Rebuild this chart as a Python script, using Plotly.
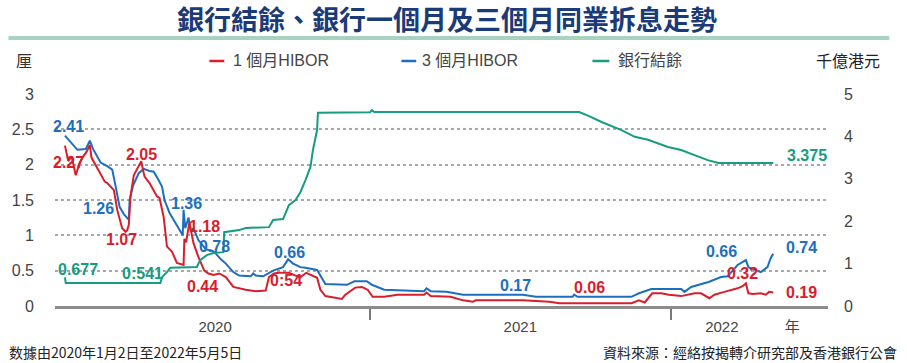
import plotly.graph_objects as go

# ---------------- data ----------------
hibor3_dates = ["2020-01-02","2020-01-08","2020-01-13","2020-01-17","2020-01-27","2020-02-01","2020-02-05",
    "2020-02-14","2020-02-22","2020-02-28","2020-03-03","2020-03-08","2020-03-13","2020-03-19","2020-03-20",
    "2020-03-24","2020-03-31","2020-04-06","2020-04-13","2020-04-18","2020-04-23","2020-04-28","2020-05-01",
    "2020-05-07","2020-05-13","2020-05-19","2020-05-23","2020-05-24","2020-05-26","2020-05-30","2020-06-02",
    "2020-06-05","2020-06-11","2020-06-20","2020-06-28","2020-07-02","2020-07-08","2020-07-14","2020-07-23",
    "2020-07-30","2020-08-13","2020-08-16","2020-08-19","2020-08-28","2020-09-09","2020-09-21","2020-09-27",
    "2020-10-03","2020-10-12","2020-10-18","2020-11-01","2020-11-11","2020-12-07","2020-12-16","2020-12-31",
    "2021-01-06","2021-01-21","2021-03-10","2021-03-13","2021-03-18","2021-04-06","2021-04-26","2021-07-07",
    "2021-07-23","2021-09-05","2021-09-07","2021-09-11","2021-10-10","2021-11-15","2021-11-24","2021-12-09",
    "2021-12-27","2022-01-14","2022-01-18","2022-01-26","2022-02-16","2022-03-03","2022-03-11","2022-03-23",
    "2022-04-02","2022-04-05","2022-04-20","2022-04-28","2022-05-02","2022-05-05"]
hibor3_values = [2.41,2.33,2.25,2.21,2.22,2.34,2.22,
    2.03,1.98,1.93,1.70,1.40,1.30,1.22,1.50,
    1.70,1.88,1.94,1.91,1.90,1.80,1.69,1.50,
    1.32,1.20,1.08,1.00,1.36,1.10,1.25,1.05,
    1.10,0.93,0.80,0.78,0.74,0.66,0.60,0.48,
    0.43,0.42,0.46,0.43,0.42,0.50,0.55,0.66,
    0.60,0.55,0.54,0.51,0.31,0.30,0.35,0.35,
    0.30,0.23,0.21,0.25,0.21,0.20,0.16,0.16,
    0.13,0.13,0.16,0.13,0.13,0.13,0.18,0.24,
    0.24,0.24,0.20,0.27,0.34,0.41,0.42,0.58,
    0.65,0.55,0.48,0.55,0.68,0.74]

hibor1_dates = ["2020-01-02","2020-01-03","2020-01-06","2020-01-10","2020-01-15","2020-01-19","2020-01-23",
    "2020-01-28","2020-02-01","2020-02-03","2020-02-07","2020-02-13","2020-02-19","2020-02-22","2020-02-26",
    "2020-03-01","2020-03-05","2020-03-11","2020-03-15","2020-03-17","2020-03-19","2020-03-21","2020-03-25",
    "2020-03-31","2020-04-03","2020-04-05","2020-04-07","2020-04-13","2020-04-22","2020-04-25","2020-04-30",
    "2020-05-04","2020-05-10","2020-05-16","2020-05-24","2020-05-25","2020-05-27","2020-05-31","2020-06-03",
    "2020-06-05","2020-06-11","2020-06-14","2020-06-18","2020-06-23","2020-06-29","2020-07-06","2020-07-14",
    "2020-07-23","2020-08-07","2020-08-19","2020-08-31","2020-09-04","2020-09-10","2020-09-16","2020-09-28",
    "2020-10-06","2020-10-12","2020-10-19","2020-10-24","2020-11-01","2020-11-05","2020-11-11","2020-12-01",
    "2020-12-05","2020-12-17","2020-12-25","2021-01-01","2021-01-07","2021-01-21","2021-02-06","2021-03-10",
    "2021-03-13","2021-03-18","2021-04-11","2021-04-26","2021-05-08","2021-05-11","2021-07-07","2021-08-08",
    "2021-08-20","2021-10-10","2021-11-15","2021-11-24","2021-12-01","2021-12-10","2021-12-21","2021-12-30",
    "2022-01-14","2022-01-30","2022-02-07","2022-02-17","2022-02-23","2022-03-07","2022-03-23","2022-03-29",
    "2022-04-02","2022-04-05","2022-04-11","2022-04-20","2022-04-26","2022-04-30","2022-05-05"]
hibor1_values = [2.27,2.20,2.05,2.12,1.85,2.00,2.10,
    2.18,2.28,2.10,2.02,1.88,1.76,1.74,1.69,
    1.64,1.36,1.10,1.05,1.07,1.15,1.55,1.85,
    2.00,2.05,1.93,1.83,1.74,1.55,1.53,1.26,
    0.84,0.77,0.61,0.58,0.95,0.90,1.18,1.00,
    0.89,0.69,0.60,0.50,0.46,0.44,0.46,0.41,
    0.27,0.23,0.21,0.22,0.41,0.46,0.47,0.47,
    0.43,0.41,0.47,0.44,0.40,0.23,0.14,0.10,
    0.16,0.26,0.27,0.23,0.13,0.13,0.16,0.16,
    0.19,0.14,0.13,0.08,0.06,0.08,0.08,0.06,
    0.04,0.04,0.04,0.08,0.05,0.18,0.18,0.16,
    0.14,0.18,0.18,0.11,0.16,0.20,0.25,0.28,
    0.32,0.18,0.17,0.18,0.16,0.20,0.19]

balance_dates = ["2020-01-02","2020-01-03","2020-04-26","2020-04-28","2020-05-04","2020-05-08","2020-06-09",
    "2020-06-13","2020-06-21","2020-06-29","2020-07-11","2020-07-12","2020-07-30","2020-08-07","2020-09-04",
    "2020-09-09","2020-09-21","2020-09-24","2020-09-28","2020-10-06","2020-10-12","2020-10-18","2020-10-24",
    "2020-10-27","2020-11-01","2020-11-02","2021-01-04","2021-01-06","2021-01-09","2021-09-13","2021-09-25",
    "2021-10-10","2021-11-03","2021-11-19","2021-12-05","2021-12-29","2022-01-14","2022-01-30","2022-02-15",
    "2022-02-28","2022-05-05"]
balance_values = [0.677,0.541,0.541,0.68,0.80,0.90,0.92,
    1.08,1.20,1.25,1.27,1.74,1.79,1.84,1.86,
    2.03,2.05,2.19,2.38,2.50,2.69,2.97,3.28,
    3.68,4.15,4.56,4.57,4.618,4.575,4.575,4.48,
    4.34,4.15,3.99,3.92,3.75,3.68,3.56,3.44,
    3.375,3.375]

series_names = ["1個月HIBOR", "3個月HIBOR", "銀行結餘"]
legend_texts = ["1 個月HIBOR", "3 個月HIBOR", "銀行結餘"]

# value labels: (text, date, value on left axis scale, series index)
label_texts = ["2.41","2.27","1.26","1.07","2.05","1.36","1.18","0.78","0.677","0:541","0.44","0.66",
               "0:54","0.17","0.06","4:618","4:575","3.375","0.66","0.32","0.74","0.19"]
label_dates = ["2020-01-06","2020-01-06","2020-02-11","2020-03-10","2020-04-03","2020-05-28","2020-06-18",
               "2020-06-30","2020-01-18","2020-04-04","2020-06-16","2020-09-29","2020-09-25","2021-06-28",
               "2021-09-26","2021-01-04","2021-04-23","2022-06-15","2022-03-04","2022-03-29","2022-06-08",
               "2022-06-08"]
label_pos = [2.535,2.025,1.374,0.935,2.139,1.445,1.119,0.836,0.51,0.467,0.283,0.751,
             0.354,0.297,0.255,3.003,3.003,2.125,0.765,0.467,0.822,0.198]
label_series = [1,0,1,0,0,1,0,1,2,2,0,1,0,1,0,2,2,2,1,0,1,0]

year_tick_vals = ["2020-07-01","2021-07-04","2022-03-04","2022-05-28"]
year_tick_text = ["2020","2021","2022","年"]
year_boundaries = ["2021-01-04","2022-01-02"]
left_ticks = [0, 0.5, 1, 1.5, 2, 2.5, 3]
left_tick_text = ["0", "0.5", "1", "1.5", "2", "2.5", "3"]
right_ticks = [0, 1, 2, 3, 4, 5]

# ---------------- styling ----------------
RED = "#d81e2c"
BLUE = "#1c6fc0"
GREEN = "#169c80"
colors = [RED, BLUE, GREEN]
NUM_FONT = "Liberation Sans, Arial, sans-serif"
CJK_FONT = "Noto Sans CJK TC, sans-serif"

fig = go.Figure()
fig.add_trace(go.Scatter(x=balance_dates, y=balance_values, mode="lines", name=series_names[2],
                         line=dict(color=GREEN, width=2), yaxis="y2", showlegend=False))
fig.add_trace(go.Scatter(x=hibor3_dates, y=hibor3_values, mode="lines", name=series_names[1],
                         line=dict(color=BLUE, width=2), showlegend=False))
fig.add_trace(go.Scatter(x=hibor1_dates, y=hibor1_values, mode="lines", name=series_names[0],
                         line=dict(color=RED, width=2), showlegend=False))

L, R, T, B = 47, 79, 94, 57
W, H = 907, 363
pw, ph = W - L - R, H - T - B

def px_x(p):
    return (p - L) / pw

def px_y(p):
    return (H - B - p) / ph

annotations = []
for t, d, v, s in zip(label_texts, label_dates, label_pos, label_series):
    annotations.append(dict(x=d, y=v, xref="x", yref="y", text=t, showarrow=False,
                            font=dict(family=NUM_FONT, size=16, color=colors[s], weight="bold"),
                            xanchor="center", yanchor="middle"))

# legend (manual)
legend_x = [(203, 218, 225), (397, 412, 416), (590, 607, 614)]
shapes = []
for (a, b, tx), name, col in zip(legend_x, legend_texts, colors):
    shapes.append(dict(type="line", xref="paper", yref="paper", x0=px_x(a), x1=px_x(b),
                       y0=px_y(61), y1=px_y(61), line=dict(color=col, width=2.5)))
    annotations.append(dict(x=px_x(tx), y=px_y(61), xref="paper", yref="paper", text=name,
                            showarrow=False, xanchor="left", yanchor="middle",
                            font=dict(family=NUM_FONT + ", " + CJK_FONT, size=16, color="#444")))

# title underline bar
shapes.append(dict(type="line", xref="paper", yref="paper", x0=px_x(0), x1=px_x(890),
                   y0=px_y(38), y1=px_y(38), line=dict(color="#a8d3c2", width=4)))

# axis unit labels
annotations.append(dict(x=px_x(16), y=px_y(60), xref="paper", yref="paper", text="厘", showarrow=False,
                        xanchor="center", yanchor="middle", font=dict(family=CJK_FONT, size=16, color="#333")))
annotations.append(dict(x=px_x(848), y=px_y(60), xref="paper", yref="paper", text="千億港元", showarrow=False,
                        xanchor="center", yanchor="middle", font=dict(family=CJK_FONT, size=16, color="#222")))

# footer
annotations.append(dict(x=px_x(-1), y=px_y(352), xref="paper", yref="paper",
                        text="数據由2020年1月2日至2022年5月5日",
                        showarrow=False,
                        xanchor="left", yanchor="middle", font=dict(family=CJK_FONT, size=14, color="#222")))
annotations.append(dict(x=px_x(900), y=px_y(352), xref="paper", yref="paper",
                        text="資料來源：經絡按揭轉介研究部及香港銀行公會", showarrow=False,
                        xanchor="right", yanchor="middle", font=dict(family=CJK_FONT, size=14, color="#222")))

fig.update_layout(
    width=W, height=H,
    margin=dict(l=L, r=R, t=T, b=B, pad=0),
    paper_bgcolor="white", plot_bgcolor="white",
    title=dict(text="銀行結餘、銀行一個月及三個月同業拆息走勢", x=447 / W, xanchor="center",
               y=1 - 21 / H, yanchor="middle", yref="container",
               font=dict(family=CJK_FONT, size=27, color="#1b3a78", weight="bold")),
    xaxis=dict(type="date", range=["2019-12-21", "2022-07-10"], showgrid=False, zeroline=False,
               showline=True, linecolor="#8c8c8c", linewidth=2.5,
               tickvals=year_tick_vals, ticktext=year_tick_text, ticks="",
               ticklabelstandoff=5,
               tickfont=dict(family=NUM_FONT + ", " + CJK_FONT, size=15, color="#444"),
               minor=dict(tickvals=year_boundaries, ticks="outside", ticklen=11,
                          tickcolor="#777", tickwidth=1.5, showgrid=False)),
    yaxis=dict(range=[0, 3], tickvals=left_ticks, ticktext=left_tick_text, showgrid=True,
               gridcolor="#a8a8a8", gridwidth=2, griddash="dot", zeroline=False, showline=False,
               ticks="", ticklabelstandoff=20,
               tickfont=dict(family=NUM_FONT, size=16, color="#444")),
    yaxis2=dict(range=[0, 5], tickvals=right_ticks, overlaying="y", side="right", showgrid=False,
                zeroline=False, showline=False, ticks="", ticklabelstandoff=15,
                tickfont=dict(family=NUM_FONT, size=16, color="#444")),
    annotations=annotations, shapes=shapes, showlegend=False,
)

fig.write_html("out.html", config={"displayModeBar": False},
               post_script="document.body.style.margin='0';document.body.style.overflow='hidden';")
